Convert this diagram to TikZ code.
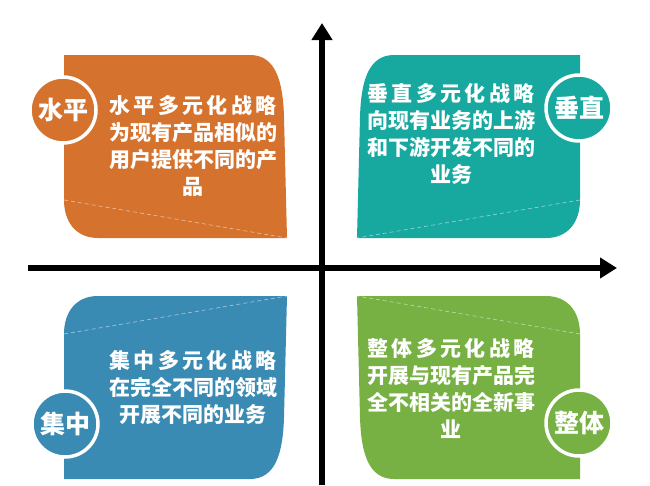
\documentclass[tikz,border=0pt]{standalone}
\usepackage{fontspec}
\usepackage{tikz}
\usetikzlibrary{arrows.meta,positioning,calc}
\newfontfamily\cjk{Noto Sans CJK SC}

\definecolor{qorange}{RGB}{213,115,46}
\definecolor{qteal}{RGB}{23,169,159}
\definecolor{qblue}{RGB}{58,139,180}
\definecolor{qgreen}{RGB}{119,176,67}

\tikzset{
    quadtext/.style={text=white, align=center, inner sep=0pt,
        font={\cjk\bfseries\fontsize{21}{27}\selectfont}},
    badge/.style={circle, draw=white, line width=3.5pt, minimum size=66pt,
        inner sep=0pt, text=white, font={\cjk\bfseries\fontsize{25}{28}\selectfont}},
    dashline/.style={draw=white, opacity=0.55, line width=0.6pt,
        dash pattern=on 4pt off 3pt},
    axis/.style={line width=6pt, -{Triangle[width=20pt,length=17pt]}}
}
\newcommand{\wide}[1]{{\addfontfeature{LetterSpace=16}#1}}

\begin{document}
\begin{tikzpicture}[x=1pt, y=-1pt]
    \useasboundingbox (0,0) rectangle (650,485);
    \fill[white] (0,0) rectangle (650,485);

    % Four quadrant panels (one shape, mirrored)
    \foreach \sx/\sy/\col in {1/1/qorange, -1/1/qteal, 1/-1/qblue, -1/-1/qgreen} {
        \begin{scope}[shift={(322,267)}, xscale=\sx, yscale=\sy]
            \fill[\col] (-258,-212) -- (-72,-212)
                .. controls (-46,-212) and (-39,-185) .. (-38,-150)
                -- (-35,-29) -- (-224,-29)
                .. controls (-246,-29) and (-258,-45) .. (-258,-67) -- cycle;
            \draw[dashline] (-258,-67) -- (-35,-29);
        \end{scope}
    }

    % Axes
    \coordinate (ybot) at (322,485);
    \coordinate (ytop) at (322,23);
    \coordinate (xleft) at (28,268);
    \coordinate (xright) at (617,268);
    \draw[axis] (ybot) -- (ytop);
    \draw[axis] (xleft) -- (xright);

    % Horizontal diversification
    \node[badge, fill=qorange] (hbadge) at (63,110) {水平};
    \node[quadtext] (htext) at (193,146)
        {\wide{水平多元化战略}\\为现有产品相似的\\用户提供不同的产\\品};

    % Vertical diversification
    \node[badge, fill=qteal] (vbadge) at (579,108) {垂直};
    \node[quadtext] (vtext) at (451,134)
        {\wide{垂直多元化战略}\\向现有业务的上游\\和下游开发不同的\\业务};

    % Concentric diversification
    \node[badge, fill=qblue] (cbadge) at (65,424) {集中};
    \node[quadtext] (ctext) at (193,388)
        {\wide{集中多元化战略}\\在完全不同的领域\\开展不同的业务};

    % Conglomerate diversification
    \node[badge, fill=qgreen] (gbadge) at (579,423) {整体};
    \node[quadtext] (gtext) at (451,388)
        {\wide{整体多元化战略}\\开展与现有产品完\\全不相关的全新事\\业};
\end{tikzpicture}
\end{document}
